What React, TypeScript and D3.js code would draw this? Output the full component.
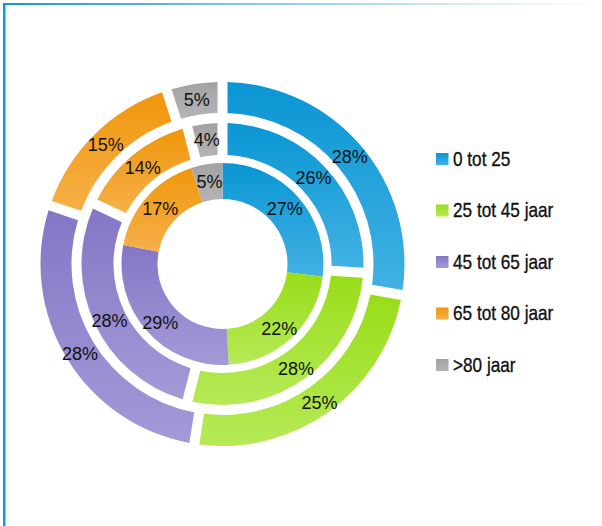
import React from "react";
import * as d3 from "d3";

const categories = ["0 tot 25", "25 tot 45 jaar", "45 tot 65 jaar", "65 tot 80 jaar", ">80 jaar"];
const innerValues = [27, 22, 29, 17, 5];
const middleValues = [26, 28, 28, 14, 4];
const outerValues = [28, 25, 28, 15, 5];

const colorTop = ["#0a96d4", "#98dd18", "#8476c5", "#f0960c", "#a2a2a2"];
const colorBottom = ["#42b1e3", "#b6ea58", "#a39ad8", "#f6b049", "#b4b4b4"];

const W = 602;
const H = 526;
const cx = 222.5;
const cy = 264;

const rings = [
  { values: innerValues, r0: 65, r1: 101, gap: 0 },
  { values: middleValues, r0: 109, r1: 141, gap: 10 },
  { values: outerValues, r0: 151, r1: 182, gap: 10 },
];

export default function App() {
  const pie = d3.pie<number>().sort(null).value((d) => d);
  const legendY = d3.scaleLinear().domain([0, categories.length - 1]).range([159, 365]);

  return (
    <svg
      width={W}
      height={H}
      style={{ position: "absolute", left: 0, top: 0, background: "#fff" }}
      fontFamily="'Liberation Sans', Arial, sans-serif"
    >
      <defs>
        {categories.map((c, i) => (
          <linearGradient key={c} id={`g${i}`} x1="0" y1="0" x2="0" y2="1">
            <stop offset="0" stopColor={colorTop[i]} />
            <stop offset="1" stopColor={colorBottom[i]} />
          </linearGradient>
        ))}
        <linearGradient id="topline" x1="0" y1="0" x2="1" y2="0">
          <stop offset="0" stopColor="#1596d4" />
          <stop offset="0.45" stopColor="#8fcbec" />
          <stop offset="0.85" stopColor="#e6f2f9" />
          <stop offset="1" stopColor="#ffffff" />
        </linearGradient>
      </defs>
      <rect x={0} y={0} width={W} height={H} fill="#fff" />
      {/* frame */}
      <rect x={3} y={3} width={W - 3} height={2} fill="url(#topline)" />
      <rect x={3} y={3} width={2} height={H - 3} fill="#1596d4" />
      <rect x={5} y={5} width={1.2} height={H - 5} fill="#8fd0ee" />

      <g transform={`translate(${cx},${cy})`}>
        {rings.map((ring, ri) => {
          const arcs = pie(ring.values);
          const arc = d3
            .arc<d3.PieArcDatum<number>>()
            .innerRadius(ring.r0)
            .outerRadius(ring.r1)
            .padAngle(ring.gap / 100)
            .padRadius(100);
          const labelArc = d3
            .arc<d3.PieArcDatum<number>>()
            .innerRadius(ring.r0)
            .outerRadius(ring.r1);
          return (
            <g key={ri}>
              {arcs.map((a, i) => (
                <path key={i} d={arc(a) || ""} fill={`url(#g${i})`} />
              ))}
              {arcs.map((a, i) => {
                const [x, y] = labelArc.centroid(a);
                return (
                  <text
                    key={`t${i}`}
                    x={x}
                    y={y + (y > 0 ? 4 : 0)}
                    textAnchor="middle"
                    dominantBaseline="central"
                    fontSize={18}
                    fill="#111"
                  >
                    {`${a.data}%`}
                  </text>
                );
              })}
            </g>
          );
        })}
      </g>

      <g>
        {categories.map((c, i) => (
          <g key={c} transform={`translate(436,${legendY(i)})`}>
            <rect x={0} y={-6} width={12.5} height={12} fill={`url(#g${i})`} />
            <text
              transform="translate(17,6.5) scale(0.86,1)"
              fontSize={20}
              fill="#111"
              stroke="#111"
              strokeWidth={0.35}
            >
              {c}
            </text>
          </g>
        ))}
      </g>
    </svg>
  );
}
